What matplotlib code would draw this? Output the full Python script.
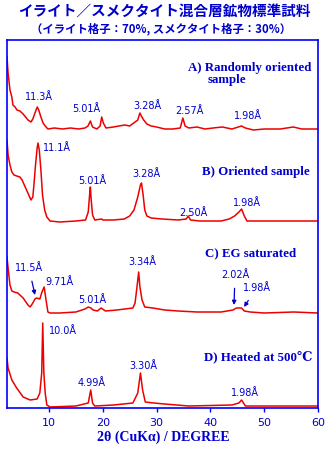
import matplotlib
matplotlib.use('Agg')
import matplotlib.pyplot as plt

# 2theta (deg) / intensity above each trace's baseline
tt_a = [2.2, 2.4, 2.75, 3.1, 3.3, 3.7, 4.05, 4.6, 5.2, 5.5, 6.1, 6.65, 7.0, 7.4, 7.82, 8.1, 8.5, 8.9, 9.3, 9.8,
        11.0, 12.5, 14.0, 15.5, 16.7, 17.25, 17.69, 18.1, 18.9, 19.5, 19.8, 20.1, 20.6, 22.0, 23.0, 24.1, 25.0,
        26.5, 26.9, 27.17, 27.6, 28.2, 29.0, 30.0, 31.5, 33.0, 34.4, 34.88, 35.3, 36.0, 37.5, 39.0, 40.5, 42.2,
        44.0, 45.79, 46.5, 48.0, 50.0, 53.0, 55.4, 57.0, 60.0]
int_a = [72, 56, 39, 32, 24, 22, 19, 18, 15, 13, 9, 7, 10, 16, 22, 19, 12, 6, 3, 0,
         1, 0, 1, 0, 1, 3, 8, 2, 0, 3, 12, 6, 1, 2, 3, 4, 3,
         9, 16, 13, 9, 5, 3, 2, 0, 0, 1, 11, 3, 1, 2, 0, 1, 2,
         0, 3, 1, -1, 0, 0, 2, 0, 0]

tt_b = [2.2, 2.4, 2.75, 3.1, 3.5, 4.0, 4.6, 5.0, 5.5, 6.0, 6.65, 7.0, 7.2, 7.5, 7.8, 7.96, 8.2, 8.5, 8.8, 9.2,
        9.6, 10.2, 12.0, 15.0, 16.8, 17.3, 17.55, 17.69, 17.85, 18.1, 18.5, 19.8, 20.0, 22.0, 24.0, 25.0, 25.8,
        26.5, 27.0, 27.2, 27.5, 27.8, 28.2, 29.0, 31.0, 34.0, 35.5, 35.89, 36.3, 38.0, 42.0, 43.5, 44.5, 45.3,
        45.8, 46.3, 46.8, 50.0, 55.0, 60.0]
int_b = [81, 66, 56, 49, 46, 45, 44, 41, 35, 29, 21, 24, 36, 56, 73, 78, 71, 51, 26, 11,
         4, 0, -1, 0, 1, 9, 26, 34, 21, 6, 1, 2, 1, 1, 2, 5, 11,
         24, 36, 38, 26, 11, 5, 3, 2, 1, 2, 5, 1, 0, 0, 2, 5, 9,
         12, 5, 0, 0, 0, 0]

tt_c = [2.2, 2.4, 2.75, 3.1, 3.5, 4.2, 5.2, 6.1, 6.5, 7.0, 7.4, 7.68, 8.3, 8.7, 9.1, 9.4, 9.6, 9.8, 10.2,
        12.0, 15.0, 16.7, 17.3, 17.8, 18.2, 19.0, 19.7, 20.5, 22.6, 25.6, 26.0, 26.4, 26.67, 26.9, 27.3, 27.8,
        29.3, 31.5, 34.0, 37.5, 42.0, 44.2, 44.83, 45.79, 46.3, 47.4, 50.0, 55.5, 60.0]
int_c = [55, 44, 27, 21, 20, 19, 14, 7, 5, 9, 13, 14, 13, 20, 25, 14, 7, 0, -1,
         -1, 0, 3, 5, 4, 2, 1, 4, 1, 2, 4, 9, 27, 40, 25, 12, 5,
         4, 2, 1, 0, 0, 2, 4, 4, 1, 0, -1, 0, -1]

tt_d = [2.2, 2.4, 3.1, 4.0, 5.2, 6.5, 7.8, 8.3, 8.65, 8.84, 9.05, 9.3, 9.6, 10.2, 15.0, 17.3, 17.76, 18.1,
        18.5, 22.0, 25.6, 26.5, 27.0, 27.4, 27.9, 29.5, 31.5, 36.0, 44.0, 45.3, 45.8, 46.5, 50.0, 60.0]
int_d = [48, 38, 26, 18, 9, 6, 7, 13, 33, 83, 33, 13, 1, -1, 0, 3, 16, 3,
         0, 1, 3, 13, 33, 16, 4, 3, 2, 0, 1, 3, 6, 0, 0, 0]

traces = [(tt_a, int_a), (tt_b, int_b), (tt_c, int_c), (tt_d, int_d)]
baselines = [279, 187, 96, 2]

panel_names = ['A) Randomly oriented', 'B) Oriented sample', 'C) EG saturated', 'D) Heated at 500℃']

# peak labels: text, 2theta, y
peak_labels = [
    ('11.3Å', 8.14, 311), ('5.01Å', 16.88, 299), ('3.28Å', 28.31, 302), ('2.57Å', 36.12, 297), ('1.98Å', 46.9, 292),
    ('11.1Å', 11.54, 260), ('5.01Å', 18.0, 227), ('3.28Å', 28.12, 234), ('2.50Å', 36.77, 195), ('1.98Å', 46.72, 205),
    ('9.71Å', 12.0, 126), ('5.01Å', 17.99, 108), ('3.34Å', 27.38, 146),
    ('10.0Å', 12.69, 77), ('4.99Å', 17.99, 25), ('3.30Å', 27.47, 42), ('1.98Å', 46.34, 15),
]
# labels with arrows: text, text position, arrow tip
arrow_labels = [
    ('11.5Å', (6.28, 140), (7.4, 113)),
    ('2.02Å', (44.57, 133), (44.39, 103)),
    ('1.98Å', (48.57, 120), (46.25, 101)),
]

blue = '#0000cc'
red = '#ee0000'

fig = plt.figure(figsize=(3.3, 4.5), dpi=100)
ax = fig.add_axes([7 / 330, 42 / 450, 311 / 330, 368 / 450])

for (tt, inten), base in zip(traces, baselines):
    ax.plot(tt, [v + base for v in inten], color=red, lw=1.1)

ax.set_xlim(2.2, 60)
ax.set_ylim(0, 368)
ax.set_xticks([10, 20, 30, 40, 50, 60])
ax.set_yticks([])
for s in ax.spines.values():
    s.set_color('#0000ff')
    s.set_linewidth(1.2)
ax.tick_params(axis='x', colors='#0000ff', direction='out', length=3, width=1,
               labelsize=8, labelcolor=blue, pad=4)

for txt, x, y in peak_labels:
    ax.text(x, y, txt, color=blue, fontsize=7, ha='center', va='center')
for txt, xy_text, xy_tip in arrow_labels:
    ax.annotate(txt, xy=xy_tip, xytext=xy_text, color=blue, fontsize=7, ha='center', va='center',
                arrowprops=dict(arrowstyle='-|>', color=blue, lw=0.9, mutation_scale=6,
                                shrinkA=4, shrinkB=0))

serif = dict(family=['Liberation Serif', 'DejaVu Serif', 'Noto Sans CJK JP'], weight='bold',
             color=blue, fontsize=9.3, va='center', ha='left')
ax.text(35.84, 340, panel_names[0], **serif)
ax.text(39.55, 328, 'sample', **serif)
ax.text(38.44, 236, panel_names[1], **serif)
ax.text(39.0, 155, panel_names[2], **serif)
ax.text(38.8, 51, panel_names[3], **serif)

fig.text(0.497, 1 - 11 / 450, 'イライト／スメクタイト混合層鉱物標準試料',
         family=['Noto Sans CJK JP', 'DejaVu Sans'], weight='bold', fontsize=10.5,
         color=blue, ha='center', va='center')
fig.text(0.488, 1 - 29 / 450, '（イライト格子：70%, スメクタイト格子：30%）',
         family=['Noto Sans CJK JP', 'DejaVu Sans'], weight='bold', fontsize=8.2,
         color=blue, ha='center', va='center')
fig.text(0.495, 1 - 437 / 450, '2θ (CuKα) / DEGREE', family='Liberation Serif', weight='bold',
         fontsize=10, color=blue, ha='center', va='center')

fig.savefig('out.png', dpi=100)
